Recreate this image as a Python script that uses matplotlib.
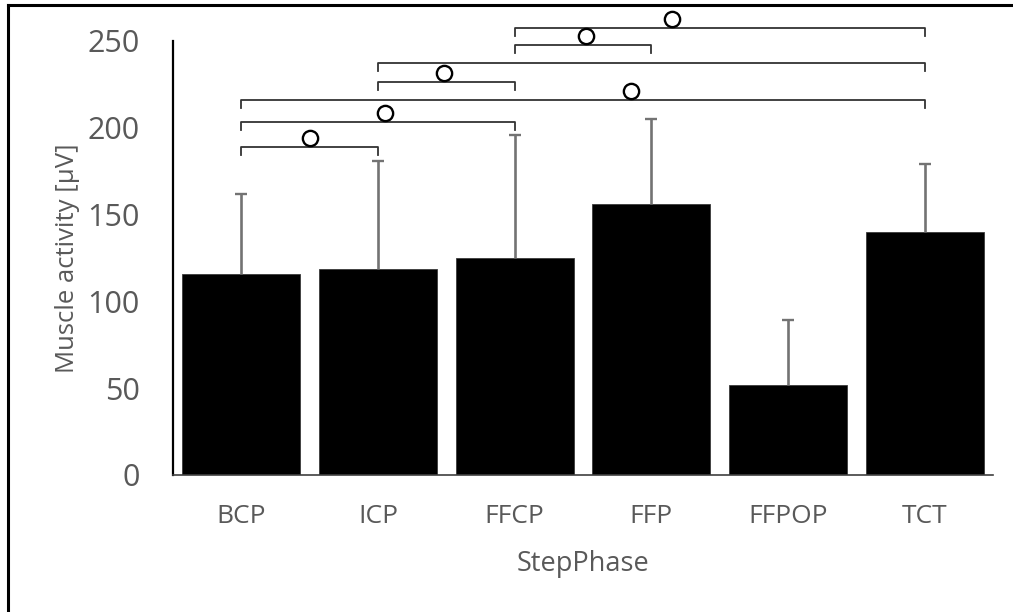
import matplotlib
matplotlib.use("Agg")
import matplotlib.pyplot as plt
from matplotlib.lines import Line2D

plt.rcParams['font.family'] = ['Open Sans', 'DejaVu Sans']

# Step phases and mean muscle activity with upper standard deviations
phases = ["BCP", "ICP", "FFCP", "FFP", "FFPOP", "TCT"]
mean_uv = [116, 118.5, 125, 156, 52, 140]
sd_uv = [46, 62.5, 71, 49, 37, 39]

# Significance brackets: compared phase pairs, bracket heights, and where the marker sits
bracket_pairs = [(0, 1), (0, 2), (0, 5), (1, 2), (1, 5), (2, 3), (2, 5)]
bracket_heights = [189, 203.5, 216, 226.5, 237.5, 247.5, 257.5]
marker_x = [0.5, 1.05, 2.85, 1.48, None, 2.52, 3.15]

y_ticks = [0, 50, 100, 150, 200, 250]
text_grey = "#595959"

fig = plt.figure(figsize=(10.13, 6.12), dpi=100)
W, H = 1013, 612
ax = fig.add_axes([173 / W, (H - 475) / H, (993 - 173) / W, (475 - 41) / H])

x = list(range(len(phases)))
ax.bar(x, mean_uv, width=0.865, color="black", edgecolor="#3a3a3a", linewidth=0.6, zorder=2)

# Upper-only error bars: whisker from the bar top to mean + SD, capped at the top
tops = [m + s for m, s in zip(mean_uv, sd_uv)]
ax.vlines(x, mean_uv, tops, color="#737373", linewidth=1.9, zorder=3)
ax.plot(x, tops, linestyle="none", marker="_", markersize=9, markeredgewidth=1.7,
        color="#737373", zorder=3)

ax.set_xlim(-0.5, len(phases) - 0.5)
ax.set_ylim(0, 250)
ax.set_yticks(y_ticks)
ax.set_xticks(x)
ax.set_xticklabels(phases)
ax.tick_params(axis="both", length=0, labelcolor=text_grey)
ax.tick_params(axis="y", pad=24, labelsize=22)
ax.tick_params(axis="x", pad=21, labelsize=19)

for side in ("top", "right"):
    ax.spines[side].set_visible(False)
ax.spines["left"].set_color("black")
ax.spines["left"].set_linewidth(1.6)
ax.spines["bottom"].set_color("#404040")
ax.spines["bottom"].set_linewidth(1.2)

ax.set_ylabel("Muscle activity [µV]", fontsize=18.5, color=text_grey, labelpad=5)
ax.set_xlabel("StepPhase", fontsize=19.5, color=text_grey, labelpad=15)

# Significance brackets with open-circle markers
drop = 4.6
for (a, b), h, mx in zip(bracket_pairs, bracket_heights, marker_x):
    ax.plot([a, a, b, b], [h - drop, h, h, h - drop], color="#333333",
            linewidth=1.3, clip_on=False, zorder=4, solid_joinstyle="round")
    if mx is not None:
        ax.plot([mx], [h + 5.3], marker="o", markersize=11, markerfacecolor="white",
                markeredgecolor="black", markeredgewidth=1.7, clip_on=False, zorder=5)

# Outer frame along the top and left edges
fig.add_artist(Line2D([8 / W, 1.0], [1 - 5 / H, 1 - 5 / H], color="black", linewidth=2.2,
                      transform=fig.transFigure))
fig.add_artist(Line2D([8 / W, 8 / W], [0, 1 - 5 / H], color="black", linewidth=2.2,
                      transform=fig.transFigure))

fig.savefig("out.png", dpi=100, facecolor="white")
